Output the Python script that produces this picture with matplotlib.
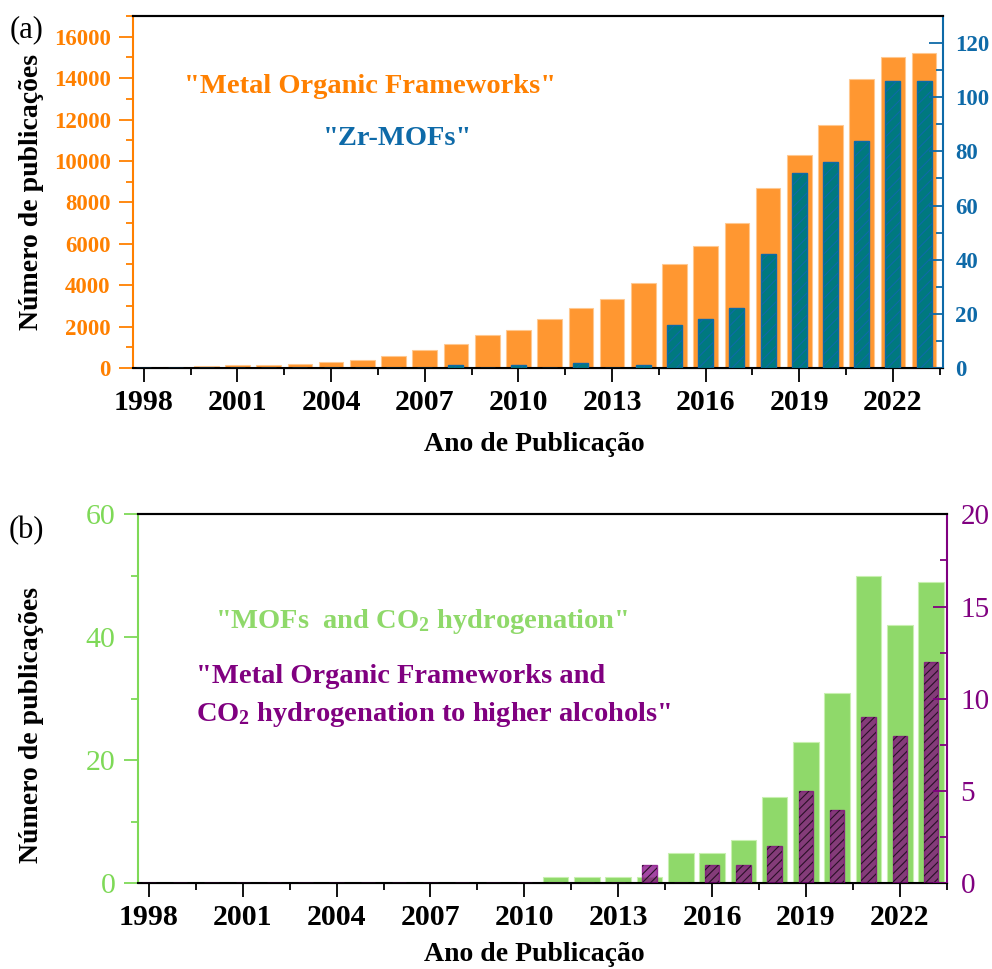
import matplotlib
matplotlib.use("Agg")
import matplotlib.pyplot as plt
from matplotlib.ticker import MultipleLocator

# ---- data ----
years = list(range(1998, 2024))
mof_pubs = [40, 60, 90, 130, 160, 200, 280, 400, 570, 860, 1180, 1600, 1850,
            2390, 2920, 3350, 4100, 5000, 5880, 6980, 8680, 10300, 11730,
            13940, 15000, 15200]
zr_mof_pubs = [0, 0, 0, 0, 0, 0, 0, 0, 0, 0, 1, 0, 1, 0, 2, 0, 1, 16, 18, 22,
               42, 72, 76, 84, 106, 106]
co2_h2_pubs = [0, 0, 0, 0, 0, 0, 0, 0, 0, 0, 0, 0, 0, 1, 1, 1, 1, 5, 5, 7,
               14, 23, 31, 50, 42, 49]
alcohol_pubs = [0, 0, 0, 0, 0, 0, 0, 0, 0, 0, 0, 0, 0, 0, 0, 0, 1, 0, 1, 1,
                2, 5, 4, 9, 8, 12]
xtick_years = list(range(1998, 2024, 3))

plt.rcParams['font.family'] = ['Liberation Serif', 'DejaVu Serif']
plt.rcParams['mathtext.default'] = 'regular'
plt.rcParams['hatch.linewidth'] = 0.8

ORANGE = '#ff8000'
BAR_OR = '#ff8c1a'
BLUE = '#0e6aa8'
TEAL = '#00797f'
GREEN = '#7ed957'
BAR_GR = '#8fd96a'
PURPLE = '#800080'

fig = plt.figure(figsize=(9.92, 9.69), dpi=100)
ax1 = fig.add_axes([0.134, 0.6202, 0.8165, 0.3633])
ax2 = fig.add_axes([0.1388, 0.0884, 0.8155, 0.3808])


def style_x(ax):
    ax.set_xlim(1997.65, 2023.6)
    ax.set_xticks(xtick_years)
    ax.xaxis.set_minor_locator(MultipleLocator(1.5))
    ax.tick_params(axis='x', which='major', direction='out', length=10,
                   width=1.3, pad=5, labelsize=21.5)
    ax.tick_params(axis='x', which='minor', direction='out', length=5,
                   width=1.3)
    for lab in ax.get_xticklabels():
        lab.set_fontweight('bold')
    ax.spines['top'].set_linewidth(1.5)
    ax.spines['bottom'].set_linewidth(1.5)


# ---- panel (a) ----
ax1.bar(years, mof_pubs, width=0.79, color=BAR_OR, alpha=0.9,
        edgecolor='#ffc890', linewidth=0.8)
ax1.set_ylim(0, 17000)
ax1.yaxis.set_major_locator(MultipleLocator(2000))
ax1.yaxis.set_minor_locator(MultipleLocator(1000))
ax1.tick_params(axis='y', which='major', colors=ORANGE, length=10, width=1.3,
                pad=6, labelsize=16.5)
ax1.tick_params(axis='y', which='minor', colors=ORANGE, length=5, width=1.3)
for lab in ax1.get_yticklabels():
    lab.set_fontweight('bold')
ax1.spines['left'].set_color(ORANGE)
ax1.spines['left'].set_linewidth(1.5)
ax1.spines['right'].set_visible(False)
style_x(ax1)

ax1r = ax1.twinx()
ax1r.bar(years, zr_mof_pubs, width=0.48, color=TEAL, edgecolor=BLUE,
         linewidth=1.0, hatch='///')
ax1r.set_ylim(0, 130)
ax1r.yaxis.set_major_locator(MultipleLocator(20))
ax1r.yaxis.set_minor_locator(MultipleLocator(10))
ax1r.tick_params(axis='y', which='major', colors=BLUE, direction='in',
                 length=10, width=1.3, pad=9, labelsize=16.5)
ax1r.tick_params(axis='y', which='minor', colors=BLUE, direction='in',
                 length=5, width=1.3)
for lab in ax1r.get_yticklabels():
    lab.set_fontweight('bold')
ax1r.spines['right'].set_color(BLUE)
ax1r.spines['right'].set_linewidth(1.5)
ax1r.spines['left'].set_visible(False)
ax1r.spines['top'].set_linewidth(1.5)

fig.text(0.373, 0.911, '"Metal Organic Frameworks"', color=ORANGE,
         fontsize=20.5, fontweight='bold', ha='center', va='center')
fig.text(0.401, 0.857, '"Zr-MOFs"', color=BLUE, fontsize=20.5,
         fontweight='bold', ha='center', va='center')
fig.text(0.027, 0.969, '(a)', fontsize=22, ha='center', va='center')
fig.text(0.032, 0.802, 'Número de publicações', rotation=90, fontsize=20,
         fontweight='bold', ha='center', va='center')
fig.text(0.539, 0.541, 'Ano de Publicação', fontsize=20, fontweight='bold',
         ha='center', va='center')

# ---- panel (b) ----
ax2.bar(years, co2_h2_pubs, width=0.82, color=BAR_GR, edgecolor='#c8f0b0',
        linewidth=0.8)
ax2.set_ylim(0, 60)
ax2.yaxis.set_major_locator(MultipleLocator(20))
ax2.yaxis.set_minor_locator(MultipleLocator(10))
ax2.tick_params(axis='y', which='major', colors=GREEN, length=10, width=1.3,
                pad=6, labelsize=21.5)
ax2.tick_params(axis='y', which='minor', colors=GREEN, length=5, width=1.3)
ax2.spines['left'].set_color(GREEN)
ax2.spines['left'].set_linewidth(1.5)
ax2.spines['right'].set_visible(False)
style_x(ax2)
ax2.set_xlim(1997.64, 2023.5)

ax2r = ax2.twinx()
ax2r.bar(years, alcohol_pubs, width=0.46, color=PURPLE, alpha=0.72,
         edgecolor=PURPLE, linewidth=1.0)
ax2r.bar(years, alcohol_pubs, width=0.46, color='none', edgecolor='#2a1028',
         linewidth=0, hatch='////')
ax2r.set_ylim(0, 20)
ax2r.yaxis.set_major_locator(MultipleLocator(5))
ax2r.yaxis.set_minor_locator(MultipleLocator(2.5))
ax2r.tick_params(axis='y', which='major', colors=PURPLE, direction='in',
                 length=10, width=1.3, pad=10, labelsize=21)
ax2r.tick_params(axis='y', which='minor', colors=PURPLE, direction='in',
                 length=5, width=1.3)
ax2r.spines['right'].set_color(PURPLE)
ax2r.spines['right'].set_linewidth(1.5)
ax2r.spines['left'].set_visible(False)
ax2r.spines['top'].set_linewidth(1.5)

fig.text(0.217, 0.359, '"MOFs  and CO$_2$ hydrogenation"', color=BAR_GR,
         fontsize=20.5, fontweight='bold', ha='left', va='center')
fig.text(0.198, 0.281, '"Metal Organic Frameworks and\nCO$_2$ hydrogenation to higher alcohols"',
         color=PURPLE, fontsize=20.5, fontweight='bold', ha='left',
         va='center', linespacing=1.55)
fig.text(0.027, 0.452, '(b)', fontsize=22, ha='center', va='center')
fig.text(0.032, 0.252, 'Número de publicações', rotation=90, fontsize=20,
         fontweight='bold', ha='center', va='center')
fig.text(0.539, 0.015, 'Ano de Publicação', fontsize=20, fontweight='bold',
         ha='center', va='center')

fig.savefig('out.png', dpi=100)
